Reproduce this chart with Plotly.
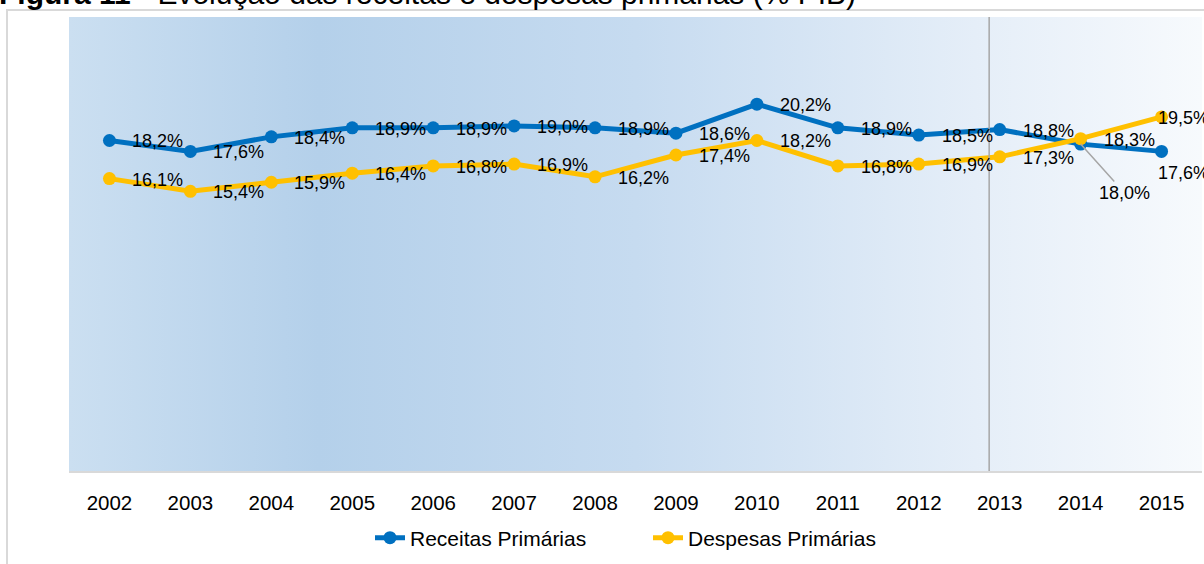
import plotly.graph_objects as go

anos = ["2002", "2003", "2004", "2005", "2006", "2007", "2008",
        "2009", "2010", "2011", "2012", "2013", "2014", "2015"]
receitas = [18.2, 17.6, 18.4, 18.9, 18.9, 19.0, 18.9, 18.6, 20.2, 18.9, 18.5, 18.8, 18.0, 17.6]
despesas = [16.1, 15.4, 15.9, 16.4, 16.8, 16.9, 16.2, 17.4, 18.2, 16.8, 16.9, 17.3, 18.3, 19.5]

AZUL = "#0070c0"
AMARELO = "#ffc000"
FONTE = "Liberation Sans, Arial, sans-serif"

# area do grafico em pixels
W, H = 1204, 564
ML, MR, MT, MB = 69, 2, 17, 93
PW, PH = W - ML - MR, H - MT - MB
YMAX = 25


def px_x(p):
    return (p - ML) / PW


def px_y(p):
    return (H - MB - p) / PH


def rotulo(v):
    return f"{v:.1f}".replace(".", ",") + "%"


x = list(range(len(anos)))
x0, x1 = -0.5, len(anos) - 0.5

fig = go.Figure()

# fundo degradê (estilo Excel)
fig.add_trace(go.Scatter(
    x=[x0, x1, x1, x0, x0], y=[0, 0, YMAX, YMAX, 0],
    mode="lines", fill="toself", line=dict(width=0),
    fillgradient=dict(type="horizontal", colorscale=[
        [0.0, "#cbdff1"], [0.22, "#b4d0ea"], [0.5, "#c6dbf0"],
        [0.8, "#e5eef8"], [1.0, "#f7fafd"]]),
    hoverinfo="skip", showlegend=False))

fig.add_trace(go.Scatter(x=x, y=receitas, mode="lines+markers", name="Receitas Primárias",
                         line=dict(color=AZUL, width=5), marker=dict(size=13, color=AZUL)))
fig.add_trace(go.Scatter(x=x, y=despesas, mode="lines+markers", name="Despesas Primárias",
                         line=dict(color=AMARELO, width=5), marker=dict(size=13, color=AMARELO)))

anots = []
fonte_rot = dict(family=FONTE, size=18, color="#000000")
for serie, vals in (("r", receitas), ("d", despesas)):
    for i, v in enumerate(vals):
        a = dict(x=i, y=v, xref="x", yref="y", text=rotulo(v), showarrow=False,
                 xanchor="left", yanchor="middle", xshift=21, yshift=-1, font=fonte_rot)
        if serie == "r" and i == 12:
            a.update(showarrow=True, arrowhead=0, arrowwidth=1.5, arrowcolor="#a6a6a6",
                     ax=44, ay=49, xanchor="center", xshift=0, yshift=0, standoff=0)
        elif i == len(vals) - 1:
            a.update(xshift=-6, yshift=-22 if serie == "r" else -1)
        anots.append(a)

# titulo (cortado no topo, como na imagem)
anots.append(dict(x=px_x(-3), y=px_y(-7), xref="paper", yref="paper", xanchor="left",
                  yanchor="middle", showarrow=False,
                  text="<b>Figura 11</b> - Evolução das receitas e despesas primárias (% PIB)",
                  font=dict(family=FONTE, size=30, color="#000000")))

shapes = [
    # linha vertical
    dict(type="line", xref="x", yref="paper", x0=10.87, x1=10.87, y0=0, y1=1,
         line=dict(color="#a6a6a6", width=1.5)),
    # borda da area do grafico
    dict(type="path", xref="paper", yref="paper",
         path=f"M {px_x(7)} {px_y(H + 5)} L {px_x(7)} {px_y(10)} L {px_x(W + 5)} {px_y(10)}",
         line=dict(color="#d9d9d9", width=2)),
]

fig.update_layout(
    width=W, height=H,
    margin=dict(l=ML, r=MR, t=MT, b=MB),
    paper_bgcolor="white", plot_bgcolor="white",
    font=dict(family=FONTE, size=18, color="#000000"),
    annotations=anots, shapes=shapes,
    legend=dict(orientation="h", x=px_x(648), xanchor="center", y=px_y(538), yanchor="middle",
                font=dict(size=21), entrywidth=233, bgcolor="rgba(0,0,0,0)"),
    xaxis=dict(range=[x0, x1], tickvals=x, ticktext=anos, showgrid=False, zeroline=False,
               showline=True, linecolor="#d9d9d9", linewidth=2,
               ticks="outside", ticklen=12, tickcolor="rgba(0,0,0,0)",
               tickfont=dict(size=20.5)),
    yaxis=dict(range=[0, YMAX], visible=False),
)

fig.write_html("out.html", config={"displayModeBar": False},
               post_script="document.body.style.margin='0';")
